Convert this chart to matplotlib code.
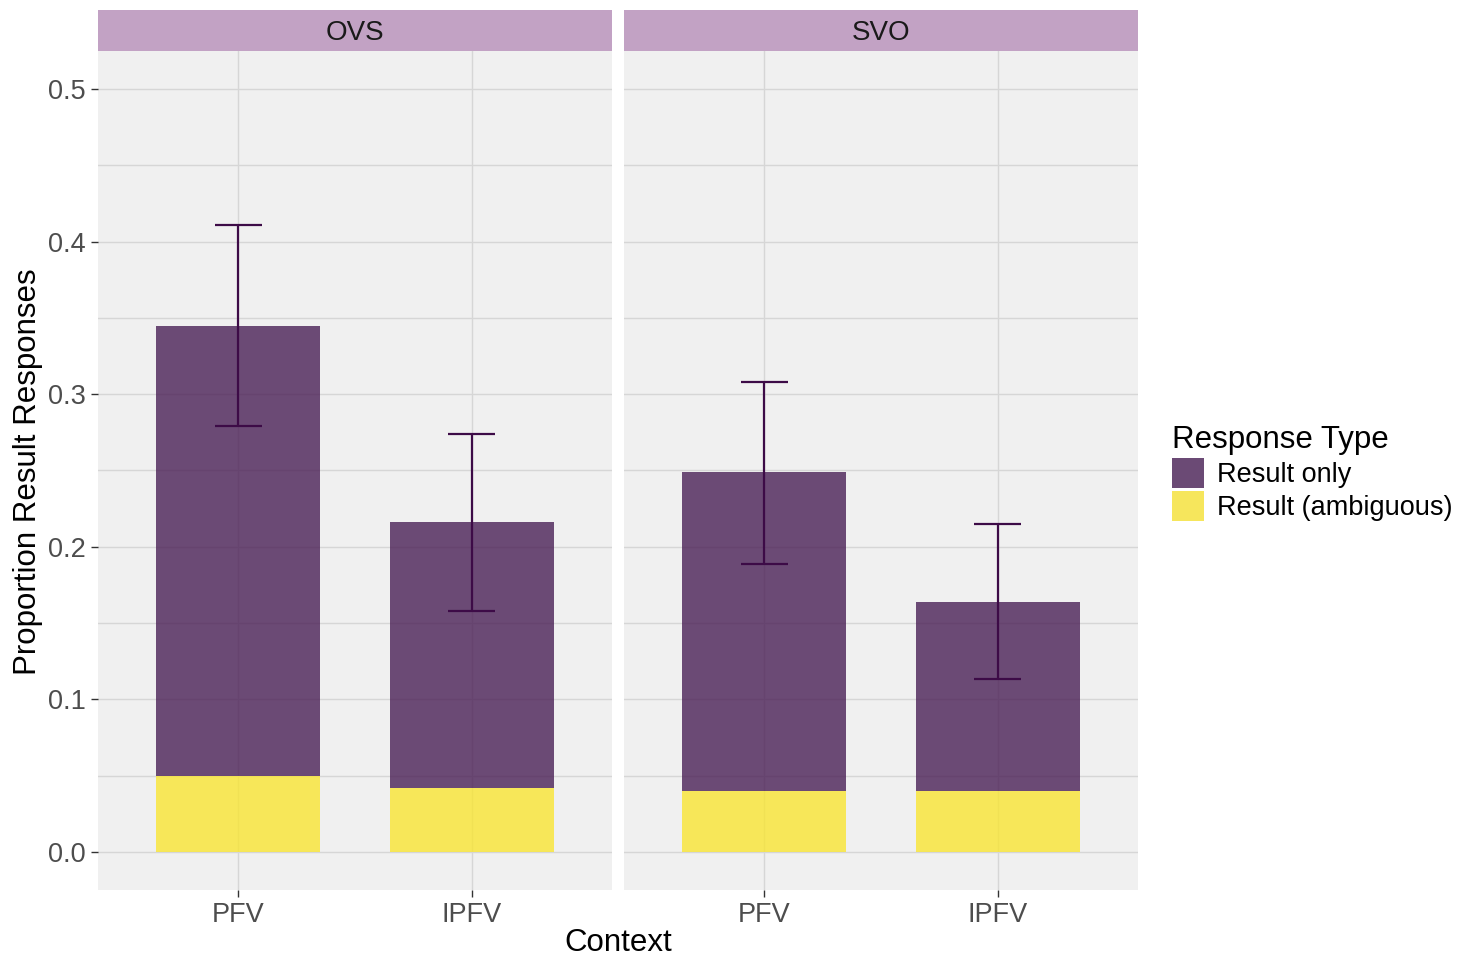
import matplotlib.pyplot as plt
from matplotlib.patches import Patch

plt.rcParams['font.family'] = ['Liberation Sans', 'DejaVu Sans']

# data
panels = ['OVS', 'SVO']
contexts = ['PFV', 'IPFV']
ambiguous = {'OVS': [0.050, 0.042], 'SVO': [0.040, 0.040]}
result_only = {'OVS': [0.295, 0.174], 'SVO': [0.209, 0.124]}
ci_low = {'OVS': [0.279, 0.158], 'SVO': [0.189, 0.113]}
ci_high = {'OVS': [0.411, 0.274], 'SVO': [0.308, 0.215]}
yticks = [0.0, 0.1, 0.2, 0.3, 0.4, 0.5]
minor_ticks = [0.05, 0.15, 0.25, 0.35, 0.45]

bg = '#F0F0F0'
purple = '#4A2056'
yellow = '#F9E533'
err_col = '#3D0B47'
W, H = 1460, 959

fig = plt.figure(figsize=(W / 100, H / 100), dpi=100)

panel_x = [(98, 612), (624, 1138)]
ptop, pbot, stop = 51, 890, 10

for i, name in enumerate(panels):
    x0, x1 = panel_x[i]
    ax = fig.add_axes([x0 / W, 1 - pbot / H, (x1 - x0) / W, (pbot - ptop) / H])
    ax.set_facecolor(bg)
    pos = list(range(1, len(contexts) + 1))
    for y in yticks + minor_ticks:
        ax.axhline(y, color='#D6D6D6', lw=1.0, zorder=0)
    for p in pos:
        ax.axvline(p, color='#D6D6D6', lw=1.0, zorder=0)
    ax.bar(pos, ambiguous[name], width=0.7, color=yellow, alpha=0.8, zorder=2)
    ax.bar(pos, result_only[name], bottom=ambiguous[name], width=0.7,
           color=purple, alpha=0.8, zorder=2)
    ax.vlines(pos, ci_low[name], ci_high[name], color=err_col, lw=1.6, zorder=3)
    for p, lo, hi in zip(pos, ci_low[name], ci_high[name]):
        ax.hlines([lo, hi], p - 0.1, p + 0.1, color=err_col, lw=1.6, zorder=3)
    ax.set_xlim(0.4, 2.6)
    ax.set_ylim(-0.025, 0.525)
    ax.set_xticks(pos)
    ax.set_xticklabels(contexts)
    ax.set_yticks(yticks)
    ax.tick_params(labelsize=19.5, colors='#333333', labelcolor='#4D4D4D',
                   length=5, width=1, pad=4)
    if i == 0:
        ax.set_yticklabels(['0.0', '0.1', '0.2', '0.3', '0.4', '0.5'])
    else:
        ax.set_yticklabels([])
        ax.tick_params(axis='y', length=0)
    for s in ax.spines.values():
        s.set_visible(False)

    # facet strip
    sax = fig.add_axes([x0 / W, 1 - ptop / H, (x1 - x0) / W, (ptop - stop) / H])
    sax.set_facecolor('#C2A2C4')
    sax.set_xticks([])
    sax.set_yticks([])
    for s in sax.spines.values():
        s.set_visible(False)
    sax.text(0.5, 0.45, name, ha='center', va='center', fontsize=20,
             color='#1A1A1A', transform=sax.transAxes)

fig.text(618 / W, 1 - 943 / H, 'Context', ha='center', va='center', fontsize=22.5)
fig.text(28 / W, 1 - 472 / H, 'Proportion Result Responses', ha='center',
         va='center', rotation=90, fontsize=22.5)

handles = [Patch(facecolor='#6B4A75', edgecolor='none'),
           Patch(facecolor='#F6E65C', edgecolor='none')]
leg = fig.legend(handles, ['Result only', 'Result (ambiguous)'],
                 title='Response Type', loc='upper left',
                 bbox_to_anchor=(1161 / W, 1 - 414 / H), frameon=False,
                 fontsize=19.5, title_fontsize=22.5, handlelength=1.2,
                 handleheight=1.35, handletextpad=0.45, labelspacing=0.1,
                 borderaxespad=0)
leg._legend_box.align = 'left'

fig.savefig('out.png', dpi=100)
